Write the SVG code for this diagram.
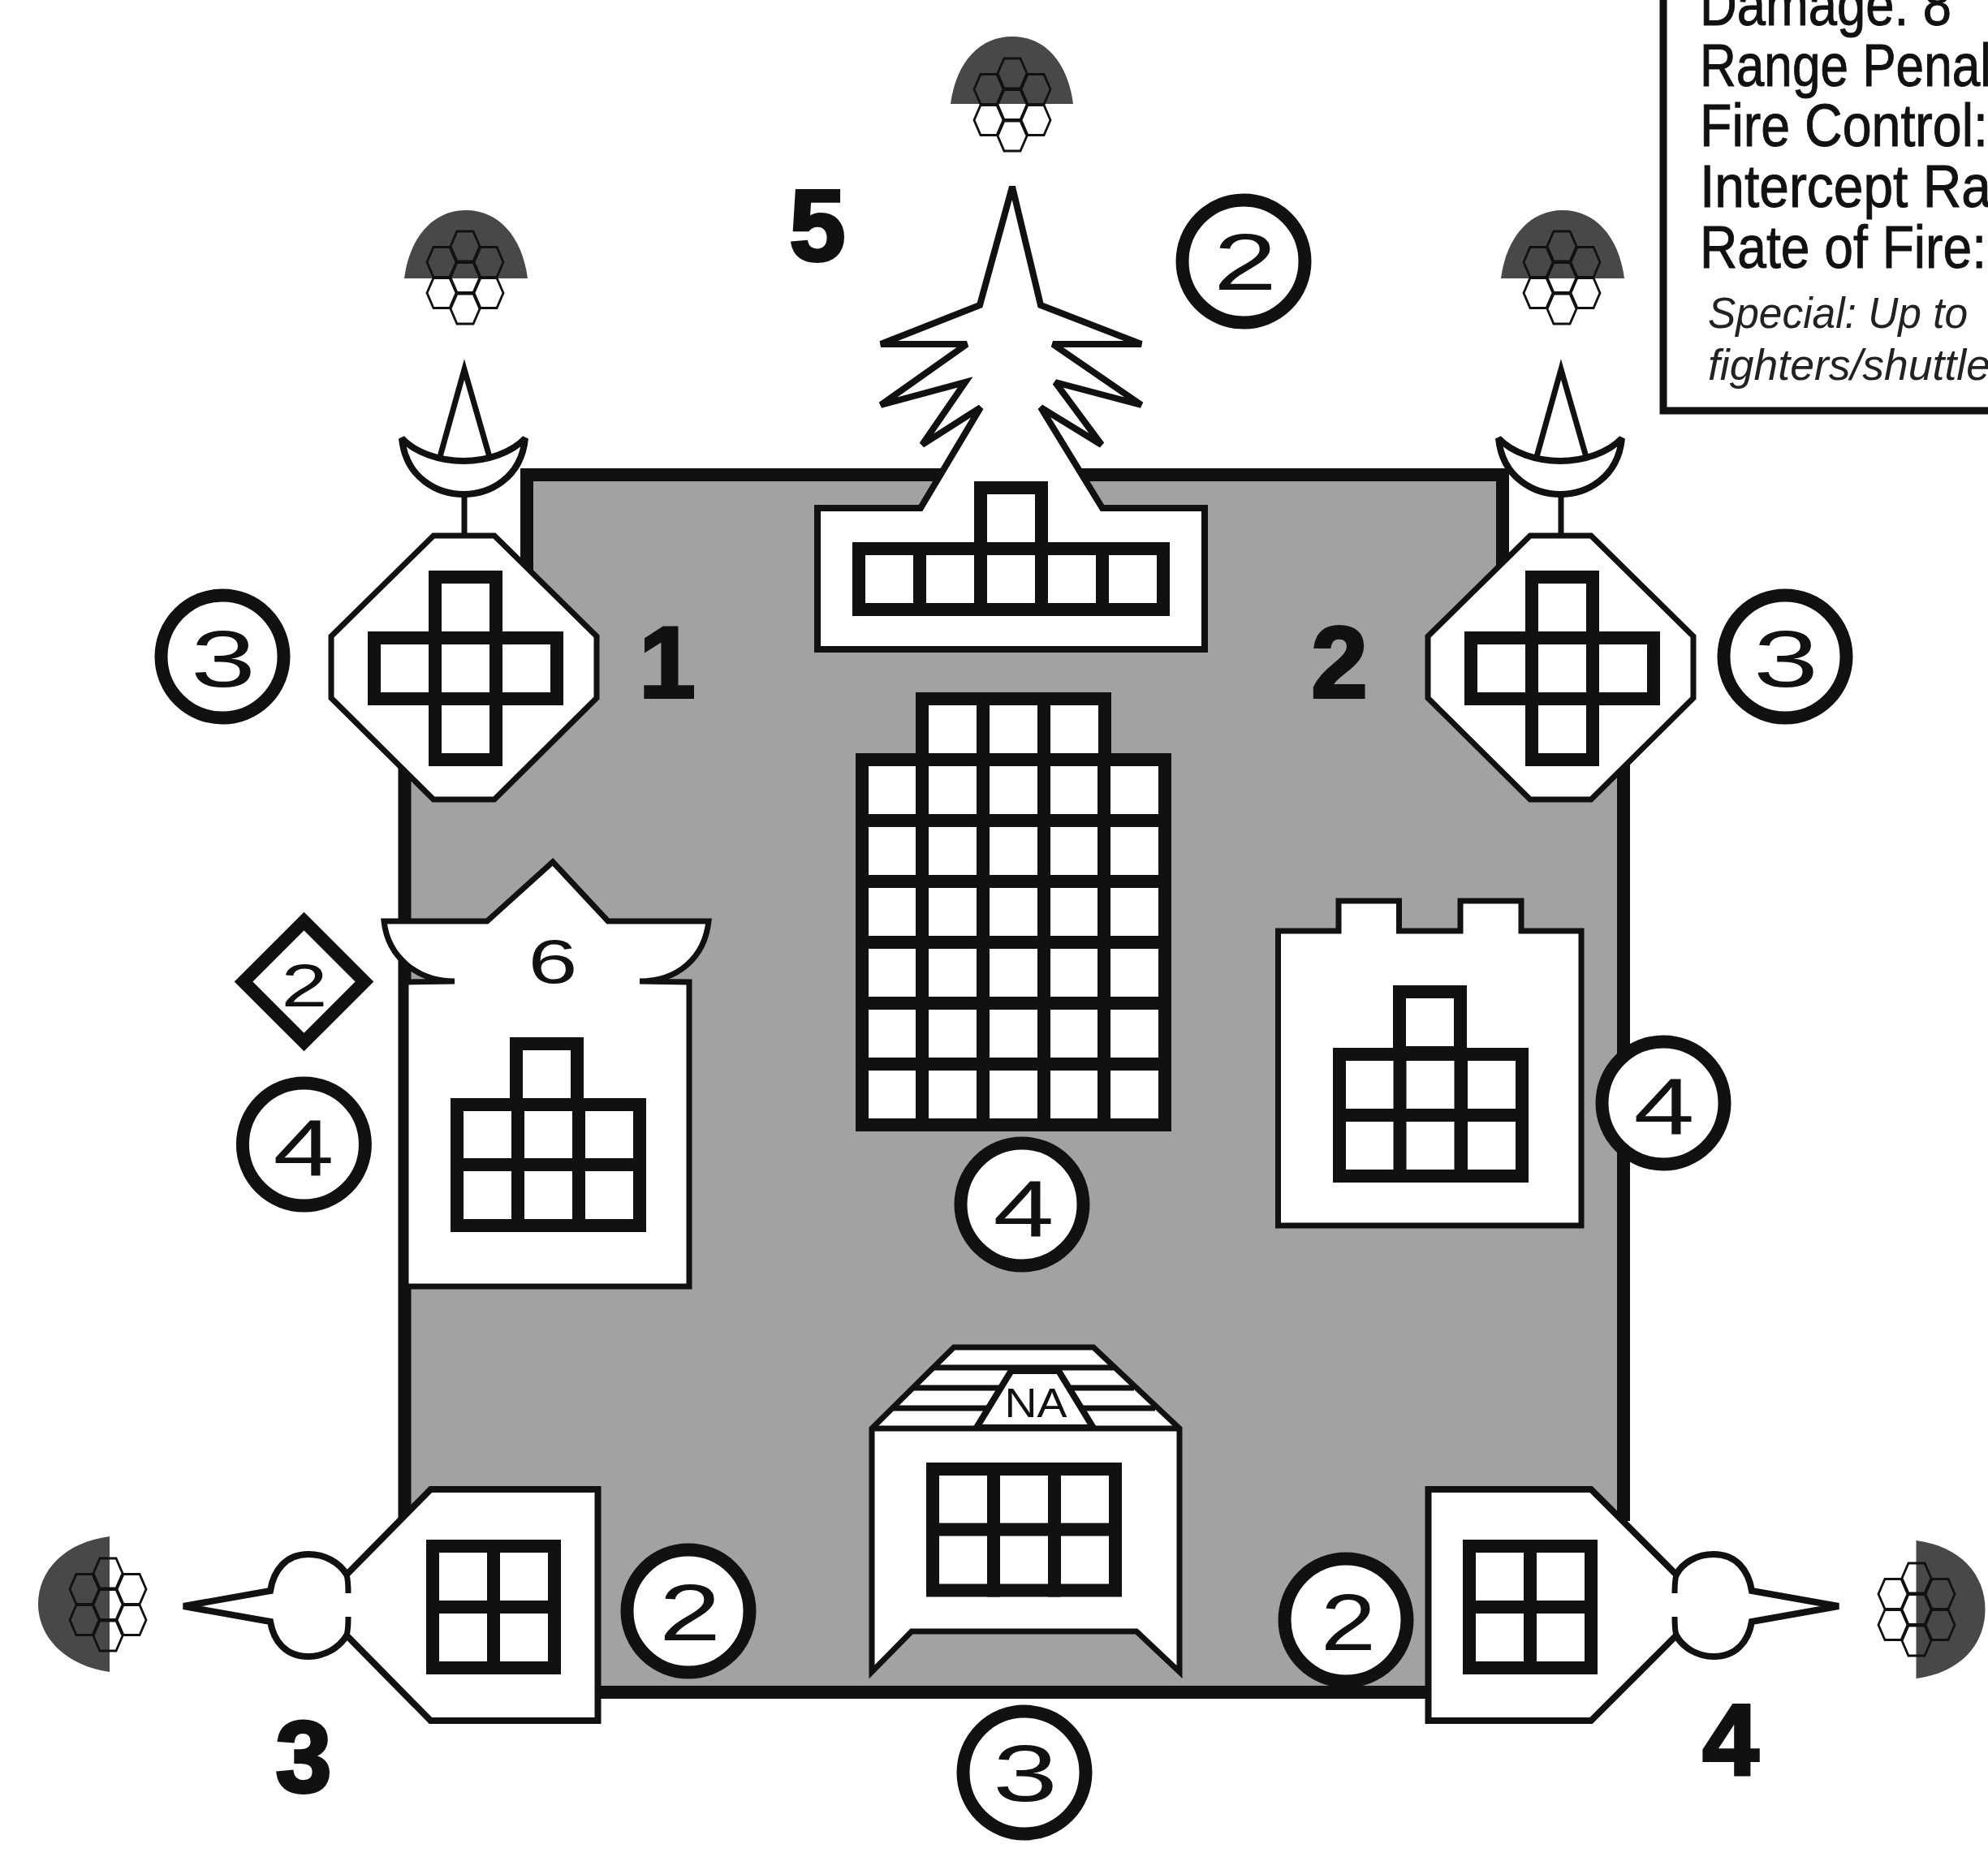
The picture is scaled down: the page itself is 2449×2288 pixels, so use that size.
<svg xmlns="http://www.w3.org/2000/svg" width="2449" height="2288" viewBox="0 0 2449 2288">
<style>
.o{fill:#fff;stroke:#111;stroke-width:7;stroke-miterlimit:12;stroke-linejoin:miter}
.t{fill:#fff;stroke:#111;stroke-width:8;stroke-miterlimit:3;stroke-linejoin:miter}
.l{fill:none;stroke:#111;stroke-width:7}
.r{fill:#fff;stroke:#111;stroke-width:16}
.d{fill:#111;font-family:"Liberation Sans",Arial,sans-serif;text-anchor:middle;font-size:98px}
.b{fill:#111;stroke:#111;stroke-width:4;font-family:"Liberation Sans",Arial,sans-serif;font-weight:700;text-anchor:middle;font-size:124px}
.s{fill:#111;stroke:#111;stroke-width:1;font-family:"Liberation Sans",Arial,sans-serif;font-size:74px}
.i{fill:#222;font-family:"Liberation Sans",Arial,sans-serif;font-size:54px;font-style:italic}
.dome{fill:#484848}
</style>
<defs>
<rect id="c" width="75" height="75" fill="#fff" stroke="#111" stroke-width="16"/>
<polygon id="h" points="-10,-18.5 10,-18.5 18,0 10,18.5 -10,18.5 -18,0" fill="none" stroke="#111" stroke-width="2.8"/>
<g id="comb">
<use href="#h" x="0" y="-38.5"/><use href="#h" x="-29" y="-19"/><use href="#h" x="29" y="-19"/><use href="#h" x="0" y="0"/><use href="#h" x="-29" y="19"/><use href="#h" x="29" y="19"/><use href="#h" x="0" y="38.5"/>
</g>
<g id="turretShape">
<path class="dome" d="M498,343 C505,290 535,259 574,259 C613,259 643,290 650,343 Z"/>
<use href="#comb" x="573" y="342"/>
<path class="o" d="M540,570 L572,455 L605,570"/>
<line x1="572" y1="605" x2="572" y2="662" class="l"/>
<path class="t" d="M495,540 C500,590 540,609 571,609 C602,609 642,590 647,540 C630,558 600,568 571,568 C542,568 512,558 495,540 Z"/>
<polygon class="o" points="534,660 609,660 735,784 735,860 609,985 534,985 408,860 408,784"/>
<use href="#c" x="536" y="711"/><use href="#c" x="461" y="786"/><use href="#c" x="611" y="786"/><use href="#c" x="536" y="861"/><use href="#c" x="536" y="786"/>
</g>
</defs>
<rect width="2449" height="2288" fill="#fff"/>
<g id="stats">
<rect x="2049" y="-20" width="520" height="526" fill="#fff" stroke="#111" stroke-width="9"/>
<text class="s" x="2094" y="31" textLength="310" lengthAdjust="spacingAndGlyphs">Damage: 8</text>
<text class="s" x="2094" y="106" textLength="359" lengthAdjust="spacingAndGlyphs">Range Penal</text>
<text class="s" x="2094" y="180" textLength="355" lengthAdjust="spacingAndGlyphs">Fire Control:</text>
<text class="s" x="2094" y="255" textLength="359" lengthAdjust="spacingAndGlyphs">Intercept Ra</text>
<text class="s" x="2094" y="330" textLength="353" lengthAdjust="spacingAndGlyphs">Rate of Fire:</text>
<text class="i" x="2104" y="404" textLength="320" lengthAdjust="spacingAndGlyphs">Special: Up to</text>
<text class="i" x="2104" y="468" textLength="348" lengthAdjust="spacingAndGlyphs">fighters/shuttle</text>
</g>
<g id="hull">
<path d="M649,585 H1851 V800 H2000 V1874 H1900 V2085 H600 V1874 H498.5 V800 H649 Z" fill="#a2a2a2"/>
<path d="M498.5,1874 V800 H649 V585 H1851 V800 H2000 V1874 M600,2085 H1900" fill="none" stroke="#111" stroke-width="16"/>
</g>
<g id="turret-1"><use href="#turretShape"/></g>
<g id="turret-2"><use href="#turretShape" x="1351"/></g>
<g id="forward">
<path class="dome" d="M1171,128 C1178,75 1208,45 1247,45 C1286,45 1315,75 1322,128 Z"/>
<use href="#comb" x="1247" y="129"/>
<polygon class="t" points="1247,230 1207,376 1085,424 1191,424 1085,499 1189,471 1136,548 1208,502 1134,626 1007,626 1007,800 1484,800 1484,626 1358,626 1282,502 1357,548 1300,471 1406,499 1297,424 1406,424 1282,376"/>
<use href="#c" x="1208" y="601"/>
<use href="#c" x="1058" y="676"/><use href="#c" x="1133" y="676"/><use href="#c" x="1208" y="676"/><use href="#c" x="1283" y="676"/><use href="#c" x="1358" y="676"/>
</g>
<g id="center-grid">
<use href="#c" x="1136" y="861"/><use href="#c" x="1211" y="861"/><use href="#c" x="1286" y="861"/>
<use href="#c" x="1062" y="936"/><use href="#c" x="1136" y="936"/><use href="#c" x="1211" y="936"/><use href="#c" x="1286" y="936"/><use href="#c" x="1360" y="936"/>
<use href="#c" x="1062" y="1011"/><use href="#c" x="1136" y="1011"/><use href="#c" x="1211" y="1011"/><use href="#c" x="1286" y="1011"/><use href="#c" x="1360" y="1011"/>
<use href="#c" x="1062" y="1086"/><use href="#c" x="1136" y="1086"/><use href="#c" x="1211" y="1086"/><use href="#c" x="1286" y="1086"/><use href="#c" x="1360" y="1086"/>
<use href="#c" x="1062" y="1161"/><use href="#c" x="1136" y="1161"/><use href="#c" x="1211" y="1161"/><use href="#c" x="1286" y="1161"/><use href="#c" x="1360" y="1161"/>
<use href="#c" x="1062" y="1236"/><use href="#c" x="1136" y="1236"/><use href="#c" x="1211" y="1236"/><use href="#c" x="1286" y="1236"/><use href="#c" x="1360" y="1236"/>
<use href="#c" x="1062" y="1311"/><use href="#c" x="1136" y="1311"/><use href="#c" x="1211" y="1311"/><use href="#c" x="1286" y="1311"/><use href="#c" x="1360" y="1311"/>
</g>
<g id="left-bay">
<path class="o" d="M473,1135 L600,1135 L681,1062 L749,1135 L873,1135 C868,1180 835,1209 788,1209 L849,1210 L849,1585 L500,1585 L500,1210 L560,1209 C515,1209 478,1180 473,1135 Z"/>
<use href="#c" x="636" y="1286"/>
<use href="#c" x="563" y="1361"/><use href="#c" x="638" y="1361"/><use href="#c" x="713" y="1361"/>
<use href="#c" x="563" y="1435"/><use href="#c" x="638" y="1435"/><use href="#c" x="713" y="1435"/>
<text class="d" x="681" y="1211" style="font-size:76px" textLength="61" lengthAdjust="spacingAndGlyphs">6</text>
</g>
<g id="right-bay">
<path class="o" d="M1574.5,1147 H1649 V1110 H1723.5 V1147 H1799 V1110 H1874 V1147 H1948 V1510 H1574.5 Z"/>
<use href="#c" x="1724" y="1222"/>
<use href="#c" x="1650" y="1299"/><use href="#c" x="1724.5" y="1299"/><use href="#c" x="1800" y="1299"/>
<use href="#c" x="1650" y="1374"/><use href="#c" x="1724.5" y="1374"/><use href="#c" x="1800" y="1374"/>
</g>
<g id="nose">
<path class="o" d="M1074,1760 L1175,1660 H1347 L1453,1760 V2060 L1400,2010 H1123 L1074,2060 Z"/>
<line class="l" x1="1074" y1="1760" x2="1453" y2="1760"/>
<line class="l" x1="1150" y1="1685" x2="1372" y2="1685"/>
<line class="l" x1="1125" y1="1710" x2="1397" y2="1710"/>
<line class="l" x1="1100" y1="1735" x2="1423" y2="1735"/>
<polygon points="1245.7,1689 1304,1689 1346.7,1759 1203,1759" fill="#fff" stroke="#111" stroke-width="8"/>
<text class="d" x="1276" y="1746" style="font-size:50px" textLength="77" lengthAdjust="spacingAndGlyphs">NA</text>
<use href="#c" x="1149" y="1810"/><use href="#c" x="1224" y="1810"/><use href="#c" x="1299" y="1810"/>
<use href="#c" x="1149" y="1884.5"/><use href="#c" x="1224" y="1884.5"/><use href="#c" x="1299" y="1884.5"/>
</g>
<g id="engine-3">
<path class="dome" d="M135,1893 C80,1900 47,1935 47,1976 C47,2017 80,2052 135,2060 Z"/>
<use href="#comb" x="133" y="1977"/>
<path class="t" d="M530.5,1835 L427,1940 C418,1925 400,1915 380,1915 C352,1915 337,1935 333,1960 L226,1979 L333,1998 C337,2022 352,2041 380,2041 C400,2041 418,2030 427,2015 L530.5,2120 H736.5 V1835 Z"/>
<path class="l" d="M429,1963 C429,1955 429,1948 427,1940 M429,1992 C429,2000 429,2008 427,2015"/>
<use href="#c" x="533" y="1905"/><use href="#c" x="608" y="1905"/><use href="#c" x="533" y="1980"/><use href="#c" x="608" y="1980"/>
</g>
<g id="engine-4">
<path class="dome" d="M2360.5,1898 C2415,1905 2445.5,1940 2445.5,1983 C2445.5,2026 2415,2061 2360.5,2068 Z"/>
<use href="#comb" x="2361" y="1983"/>
<path class="t" d="M1960,1835 L2065,1940 C2073,1925 2091,1915 2111,1915 C2139,1915 2154,1935 2158,1960 L2265,1979 L2158,1998 C2154,2022 2139,2041 2111,2041 C2091,2041 2073,2030 2065,2015 L1960,2120 H1759.5 V1835 Z"/>
<path class="l" d="M2063,1963 C2063,1955 2063,1948 2065,1940 M2063,1992 C2063,2000 2063,2008 2065,2015"/>
<use href="#c" x="1810" y="1905"/><use href="#c" x="1885" y="1905"/><use href="#c" x="1810" y="1980"/><use href="#c" x="1885" y="1980"/>
</g>
<g id="rating-forward"><circle cx="1532" cy="322" r="75.5" class="r"/><text class="d" x="1534" y="357" textLength="78" lengthAdjust="spacingAndGlyphs">2</text></g>
<g id="rating-1"><circle cx="274" cy="809" r="75.5" class="r"/><text class="d" x="275" y="846" textLength="80" lengthAdjust="spacingAndGlyphs">3</text></g>
<g id="rating-2"><circle cx="2199" cy="809" r="75.5" class="r"/><text class="d" x="2200" y="846" textLength="80" lengthAdjust="spacingAndGlyphs">3</text></g>
<g id="fighter-rating"><polygon points="374.5,1135 449,1209.5 374.5,1284 300,1209.5" class="r"/><text class="d" x="375" y="1240" style="font-size:75px" textLength="57" lengthAdjust="spacingAndGlyphs">2</text></g>
<g id="rating-left"><circle cx="374.4" cy="1410" r="75.5" class="r"/><text class="d" x="374" y="1448" textLength="75" lengthAdjust="spacingAndGlyphs">4</text></g>
<g id="rating-center"><circle cx="1259" cy="1484" r="75.5" class="r"/><text class="d" x="1261" y="1523" textLength="75" lengthAdjust="spacingAndGlyphs">4</text></g>
<g id="rating-right"><circle cx="2049" cy="1359" r="75.5" class="r"/><text class="d" x="2050" y="1397" textLength="75" lengthAdjust="spacingAndGlyphs">4</text></g>
<g id="rating-nose"><circle cx="1262" cy="2184" r="75.5" class="r"/><text class="d" x="1263" y="2219" textLength="80" lengthAdjust="spacingAndGlyphs">3</text></g>
<g id="rating-3"><circle cx="848" cy="1985" r="75.5" class="r"/><text class="d" x="850" y="2021" textLength="76" lengthAdjust="spacingAndGlyphs">2</text></g>
<g id="rating-4"><circle cx="1658" cy="1996" r="75.5" class="r"/><text class="d" x="1661" y="2033" textLength="68" lengthAdjust="spacingAndGlyphs">2</text></g>
<g id="labels">
<text class="b" x="1007" y="321">5</text>
<text class="b" x="822" y="859">1</text>
<text class="b" x="1650" y="859">2</text>
<text class="b" x="374" y="2208">3</text>
<text class="b" x="2132" y="2186">4</text>
</g>
</svg>
